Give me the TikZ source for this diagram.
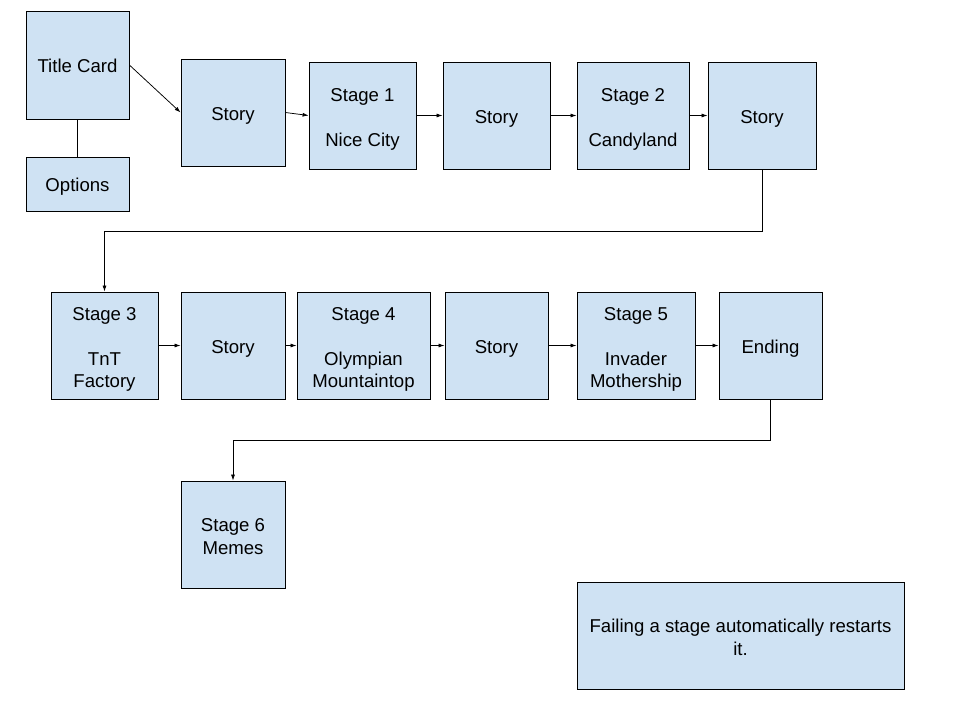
\documentclass[tikz,border=0pt]{standalone}
\usepackage{fontspec}
\setmainfont{Liberation Sans}
\usetikzlibrary{arrows.meta}
\definecolor{boxblue}{RGB}{207,226,243}
\begin{document}
\begin{tikzpicture}[x=1pt,y=-1pt,
  box/.style={draw=black, fill=boxblue, line width=0.8pt, align=center, inner sep=0pt,
    text height=15.6pt, text depth=0pt, font=\fontsize{18.6}{22.5}\selectfont},
  twolines/.style={text height=39.9pt},
  gaplines/.style={text height=62.4pt},
  gapthree/.style={text height=84.9pt},
  arr/.style={-{Latex[length=6pt,width=4pt]}, line width=0.75pt},
  plain/.style={line width=0.75pt}]
\path[use as bounding box] (0,0) rectangle (960,720);
% row 1
\node[box, minimum width=103pt, minimum height=108pt] (title) at (77.5,65) {Title Card};
\node[box, minimum width=103pt, minimum height=54pt] (options) at (77.5,184) {Options};
\node[box, minimum width=104pt, minimum height=107pt] (story1) at (233,112.5) {Story};
\node[box, gaplines, minimum width=107pt, minimum height=107pt] (stage1) at (362.5,115.5) {Stage 1\\[22.5pt]Nice City};
\node[box, minimum width=107pt, minimum height=107pt] (story2) at (496.5,115.5) {Story};
\node[box, gaplines, minimum width=112pt, minimum height=107pt] (stage2) at (633,115.5) {Stage 2\\[22.5pt]Candyland};
\node[box, minimum width=108pt, minimum height=107pt] (story3) at (762,115.5) {Story};
% row 2
\node[box, gapthree, minimum width=107pt, minimum height=107pt] (stage3) at (104.5,345.5) {Stage 3\\[22.5pt]TnT\\Factory};
\node[box, minimum width=104pt, minimum height=107pt] (story4) at (233,345.5) {Story};
\node[box, gapthree, minimum width=133pt, minimum height=107pt] (stage4) at (363.5,345.5) {Stage 4\\[22.5pt]Olympian\\Mountaintop};
\node[box, minimum width=103pt, minimum height=107pt] (story5) at (496.5,345.5) {Story};
\node[box, gapthree, minimum width=118pt, minimum height=107pt] (stage5) at (636,345.5) {Stage 5\\[22.5pt]Invader\\Mothership};
\node[box, minimum width=103pt, minimum height=107pt] (ending) at (770.5,345.5) {Ending};
% row 3
\node[box, twolines, minimum width=104pt, minimum height=107pt] (stage6) at (233,534.5) {Stage 6\\Memes};
\node[box, twolines, minimum width=327pt, minimum height=107pt] (note) at (740.5,635.5) {Failing a stage automatically restarts\\it.};
% connectors
\draw[plain] (title.south) -- (options.north);
\draw[arr] (title.east) -- (story1.west);
\draw[arr] (story1.east) -- (stage1.west);
\draw[arr] (stage1.east) -- (story2.west);
\draw[arr] (story2.east) -- (stage2.west);
\draw[arr] (stage2.east) -- (story3.west);
\draw[arr] (story3.south) -- ++(0,62) -| (stage3.north);
\draw[arr] (stage3.east) -- (story4.west);
\draw[arr] (story4.east) -- (stage4.west);
\draw[arr] (stage4.east) -- (story5.west);
\draw[arr] (story5.east) -- (stage5.west);
\draw[arr] (stage5.east) -- (ending.west);
\draw[arr] (ending.south) -- ++(0,41) -| (stage6.north);
\end{tikzpicture}
\end{document}
